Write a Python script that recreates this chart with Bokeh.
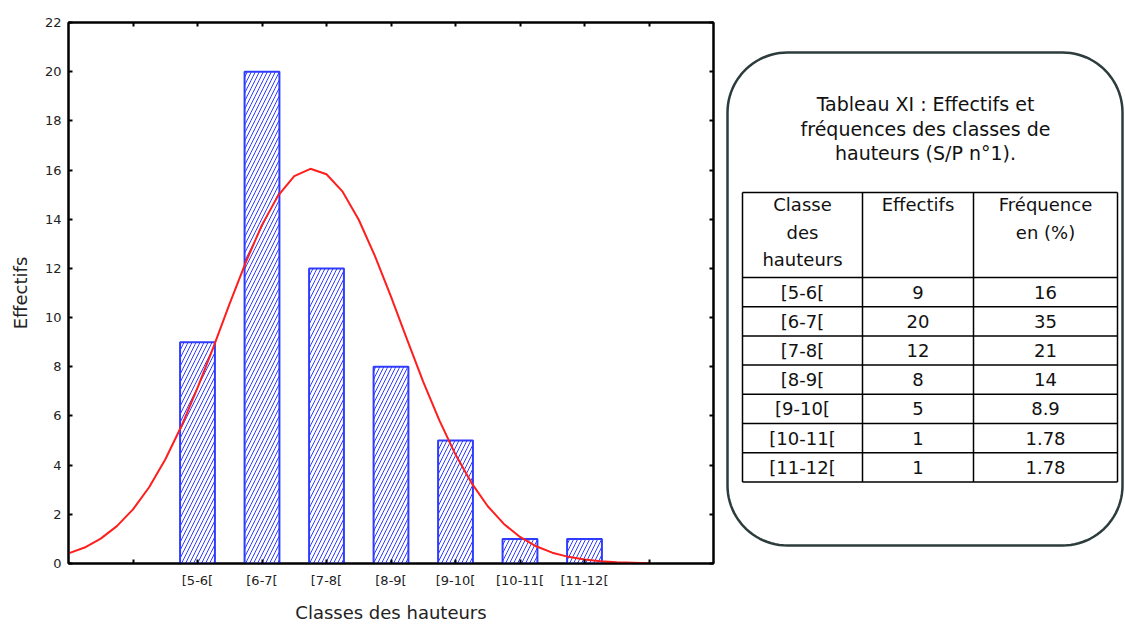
import numpy as np
from bokeh.plotting import figure
from bokeh.models import Range1d, FixedTicker, LinearAxis
from bokeh.layouts import row
from bokeh.embed import file_html
from bokeh.resources import INLINE
from bokeh.core.properties import value

# ---------------- data ----------------
classes = ["[5-6[", "[6-7[", "[7-8[", "[8-9[", "[9-10[", "[10-11[", "[11-12["]
class_mid = [5.5, 6.5, 7.5, 8.5, 9.5, 10.5, 11.5]
effectifs = [9, 20, 12, 8, 5, 1, 1]
frequences = ["16", "35", "21", "14", "8.9", "1.78", "1.78"]

# fitted normal curve
curve_x = [3.5, 3.75, 4.0, 4.25, 4.5, 4.75, 5.0, 5.25, 5.5, 5.75, 6.0, 6.25, 6.5,
           6.75, 7.0, 7.25, 7.5, 7.75, 8.0, 8.25, 8.5, 8.75, 9.0, 9.25, 9.5, 9.75,
           10.0, 10.25, 10.5, 10.75, 11.0, 11.25, 11.5, 11.75, 12.0, 12.25, 12.5]
curve_y = [0.41, 0.65, 1.01, 1.52, 2.20, 3.10, 4.23, 5.58, 7.14, 8.82, 10.58, 12.26,
           13.77, 14.96, 15.75, 16.05, 15.83, 15.12, 13.98, 12.51, 10.85, 9.10, 7.39,
           5.82, 4.43, 3.27, 2.33, 1.61, 1.08, 0.70, 0.44, 0.27, 0.16, 0.09, 0.05,
           0.03, 0.01]

y_ticks = [0, 2, 4, 6, 8, 10, 12, 14, 16, 18, 20, 22]
x_edge_ticks = [4.5, 12.5]
x_all_ticks = [4.5, 5.5, 6.5, 7.5, 8.5, 9.5, 10.5, 11.5, 12.5]

title_lines = ["Tableau XI : Effectifs et", "fréquences des classes de", "hauteurs (S/P n°1)."]

FONT = "DejaVu Sans"
BLUE = "#2f3cff"
RED = "#ff1e1e"

BT, BB = 22, 63   # common top / bottom borders so both frames align

# ---------------- chart ----------------
p1 = figure(width=720, height=626,
            x_range=Range1d(3.5, 13.5), y_range=Range1d(0, 22),
            output_backend="svg", toolbar_location=None,
            min_border_left=68, min_border_right=7, min_border_top=BT, min_border_bottom=BB,
            background_fill_color="white", border_fill_color="white")
p1.grid.visible = False
p1.outline_line_color = "black"
p1.outline_line_width = 2

overrides = {m: c for m, c in zip(class_mid, classes)}

xa = p1.xaxis[0]
xa.ticker = FixedTicker(ticks=class_mid, minor_ticks=x_edge_ticks)
xa.major_label_overrides = overrides
xa.axis_label = "Classes des hauteurs"

ya = p1.yaxis[0]
ya.ticker = FixedTicker(ticks=y_ticks)
ya.axis_label = "Effectifs"

for ax in (xa, ya):
    ax.axis_line_width = 2
    ax.axis_line_color = "black"
    ax.major_tick_in = 4
    ax.major_tick_out = 0
    ax.minor_tick_in = 4
    ax.minor_tick_out = 0
    ax.major_tick_line_width = 2
    ax.minor_tick_line_width = 2
    ax.minor_tick_line_color = "black"
    ax.major_label_text_font = FONT
    ax.major_label_text_font_size = "13px"
    ax.major_label_text_color = "#222222"
    ax.axis_label_text_font = FONT
    ax.axis_label_text_font_style = "normal"
    ax.axis_label_text_color = "#222222"
ya.minor_tick_in = 0
xa.major_label_standoff = 9
xa.axis_label_standoff = 11
xa.axis_label_text_font_size = "18px"
ya.major_label_standoff = 7
ya.axis_label_standoff = 11
ya.axis_label_text_font_size = "18px"

for loc, tk in (("above", x_all_ticks), ("right", y_ticks)):
    ax = LinearAxis(ticker=FixedTicker(ticks=[], minor_ticks=tk),
                    major_tick_in=0, major_tick_out=0,
                    minor_tick_in=4, minor_tick_out=0, minor_tick_line_width=2,
                    minor_tick_line_color="black", axis_line_width=2)
    p1.add_layout(ax, loc)

p1.vbar(x=class_mid, top=effectifs, bottom=0, width=0.54,
        fill_color="white", line_color=BLUE, line_width=2,
        hatch_pattern="/", hatch_color=BLUE, hatch_scale=8, hatch_weight=1)
p1.line(curve_x, curve_y, line_color=RED, line_width=2)

# ---------------- table panel (data units = page pixels) ----------------
X0, X1 = 720, 1125
H = 626
p2 = figure(width=X1 - X0, height=H,
            x_range=Range1d(X0, X1), y_range=Range1d(H - BB, BT),
            output_backend="svg", toolbar_location=None,
            min_border_left=0, min_border_right=0, min_border_top=BT, min_border_bottom=BB,
            x_axis_type=None, y_axis_type=None,
            background_fill_color="white", border_fill_color="white")
p2.grid.visible = False
p2.outline_line_color = None

# rounded frame
l, r, t, b, rad = 727, 1122, 52, 545, 60
xs, ys = [], []
for cx, cy, a0 in [(r - rad, t + rad, -90), (r - rad, b - rad, 0),
                   (l + rad, b - rad, 90), (l + rad, t + rad, 180)]:
    ang = np.radians(np.linspace(a0, a0 + 90, 24))
    xs += list(cx + rad * np.cos(ang))
    ys += list(cy + rad * np.sin(ang))
p2.patch(xs, ys, fill_color=None, line_color="#2c3b3b", line_width=2.5)

# title
p2.text(x=[925] * 3, y=[103, 128, 152], text=title_lines,
        text_font=value(FONT), text_font_size="19px", text_color="#111111",
        text_align="center", text_baseline="middle")

# table grid
col_x = [742, 862, 973, 1117]
row_y = [192, 277]
n = len(classes)
rh = 29.2
for i in range(n):
    row_y.append(277 + rh * (i + 1))
p2.segment(x0=col_x, y0=[row_y[0]] * 4, x1=col_x, y1=[row_y[-1]] * 4,
           line_color="black", line_width=1.5)
p2.segment(x0=[col_x[0]] * len(row_y), y0=row_y, x1=[col_x[-1]] * len(row_y), y1=row_y,
           line_color="black", line_width=1.5)

cc = [(col_x[0] + col_x[1]) / 2, (col_x[1] + col_x[2]) / 2, (col_x[2] + col_x[3]) / 2]
hx = [cc[0], cc[0], cc[0], cc[1], cc[2], cc[2]]
hy = [204, 232, 259, 204, 204, 232]
htext = ["Classe", "des", "hauteurs", "Effectifs", "Fréquence", "en (%)"]
p2.text(x=hx, y=hy, text=htext, text_font=value(FONT), text_font_size="18px",
        text_color="#111111", text_align="center", text_baseline="middle")

ry = [(row_y[i + 1] + row_y[i + 2]) / 2 for i in range(n)]
for xc, col in ((cc[0], classes), (cc[1], [str(v) for v in effectifs]), (cc[2], frequences)):
    p2.text(x=[xc] * n, y=ry, text=col, text_font=value(FONT), text_font_size="18px",
            text_color="#111111", text_align="center", text_baseline="middle")

layout = row(p1, p2)
open("out.html", "w").write(file_html(layout, INLINE))
